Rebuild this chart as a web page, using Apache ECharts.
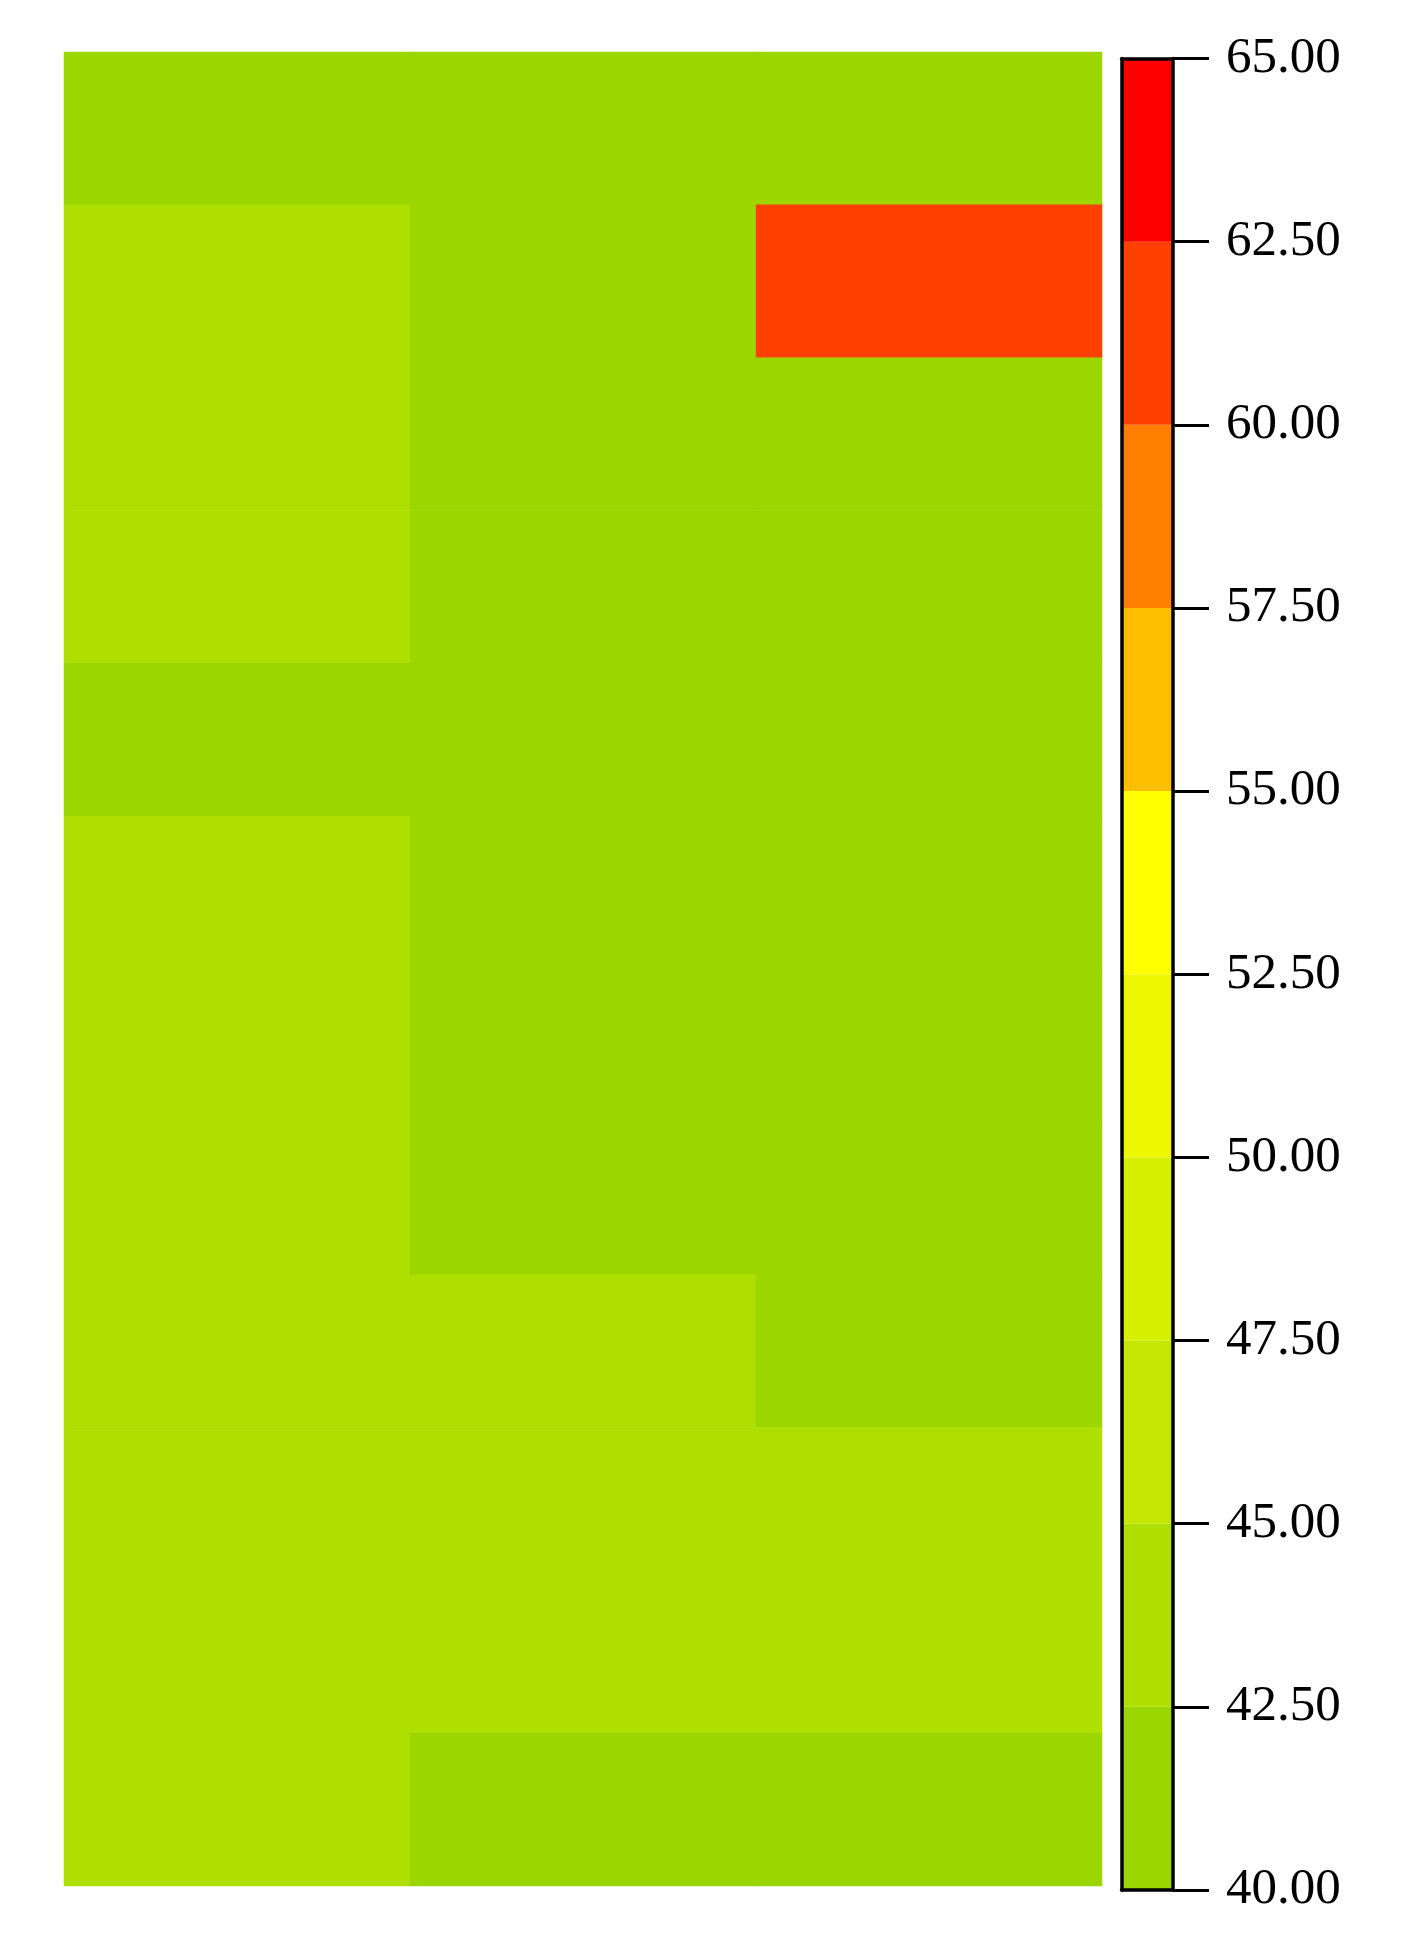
<!DOCTYPE html>
<html>
<head>
<meta charset="utf-8">
<script src="https://cdn.jsdelivr.net/npm/echarts@6/dist/echarts.min.js"></script>
<style>html,body{margin:0;padding:0;background:#fff;}#c{width:1412px;height:1959px;}</style>
</head>
<body>
<div id="c"></div>
<script>
// Heatmap: 3 columns x 12 rows (rows listed top to bottom)
const columns = ['1', '2', '3'];
const rows = ['1','2','3','4','5','6','7','8','9','10','11','12'];
const col1Values = [41.2, 43.6, 43.4, 43.3, 42.0, 43.2, 43.5, 43.1, 43.4, 43.7, 43.6, 43.5];
const col2Values = [41.5, 41.8, 41.6, 41.7, 41.6, 41.7, 41.9, 42.1, 43.0, 43.2, 43.4, 42.2];
const col3Values = [41.3, 61.2, 41.9, 41.8, 41.9, 41.8, 41.7, 41.8, 42.2, 43.0, 43.1, 42.0];

// Colour scale: boundaries and colours (low to high)
const scaleMin = 40, scaleMax = 65, scaleStep = 2.5;
const pieceColors = ['#9CD600', '#AFDF00', '#C4E700', '#D7EF00', '#EDF700',
                     '#FFFF00', '#FFBF00', '#FF8000', '#FF4000', '#FF0000'];

const allCols = [col1Values, col2Values, col3Values];
const heatData = [];
allCols.forEach((vals, ci) => vals.forEach((v, ri) => heatData.push([ci, ri, v])));

const pieces = pieceColors.map((c, i) => ({
  gte: scaleMin + i * scaleStep,
  lt: scaleMin + (i + 1) * scaleStep,
  color: c
}));

const barSeries = [{
  type: 'bar', xAxisIndex: 1, yAxisIndex: 1, stack: 'cb', data: [scaleMin],
  itemStyle: { color: 'rgba(0,0,0,0)' }, barWidth: '100%', silent: true, clip: true
}].concat(pieceColors.map(c => ({
  type: 'bar', xAxisIndex: 1, yAxisIndex: 1, stack: 'cb', data: [scaleStep],
  itemStyle: { color: c }, barWidth: '100%', silent: true, clip: true
})));

const chart = echarts.init(document.getElementById('c'), null, { renderer: 'canvas' });
chart.setOption({
  animation: false,
  backgroundColor: '#ffffff',
  grid: [
    { left: 64, top: 52, width: 1038, height: 1834 },
    { left: 1121.5, top: 58.5, width: 51.5, height: 1831.5 }
  ],
  xAxis: [
    { type: 'category', gridIndex: 0, data: columns, show: false },
    { type: 'category', gridIndex: 1, data: [''], position: 'bottom', z: 10,
      axisLine: { show: true, lineStyle: { color: '#000', width: 3.5 } },
      axisTick: { show: false }, axisLabel: { show: false } },
    { type: 'category', gridIndex: 1, data: [''], position: 'top', z: 10,
      axisLine: { show: true, lineStyle: { color: '#000', width: 3.5 } },
      axisTick: { show: false }, axisLabel: { show: false } }
  ],
  yAxis: [
    { type: 'category', gridIndex: 0, data: rows, inverse: true, show: false },
    { type: 'value', gridIndex: 1, min: scaleMin, max: scaleMax, interval: scaleStep,
      position: 'right', z: 10,
      axisLine: { show: true, lineStyle: { color: '#000', width: 3.5 } },
      axisTick: { show: true, inside: false, length: 36, lineStyle: { color: '#000', width: 3.2 } },
      axisLabel: { show: true, margin: 53, color: '#000', fontFamily: 'Liberation Serif',
        fontSize: 51, padding: [6, 0, 0, 0], formatter: v => v.toFixed(2) },
      splitLine: { show: false } },
    { type: 'value', gridIndex: 1, min: scaleMin, max: scaleMax, interval: scaleStep,
      position: 'left', z: 10,
      axisLine: { show: true, lineStyle: { color: '#000', width: 3.5 } },
      axisTick: { show: false }, axisLabel: { show: false }, splitLine: { show: false } }
  ],
  visualMap: {
    type: 'piecewise', show: false, seriesIndex: 0, dimension: 2, pieces: pieces
  },
  series: [{
    type: 'heatmap', xAxisIndex: 0, yAxisIndex: 0, data: heatData,
    itemStyle: { borderWidth: 0 }, emphasis: { disabled: true }
  }].concat(barSeries)
});
</script>
</body>
</html>
